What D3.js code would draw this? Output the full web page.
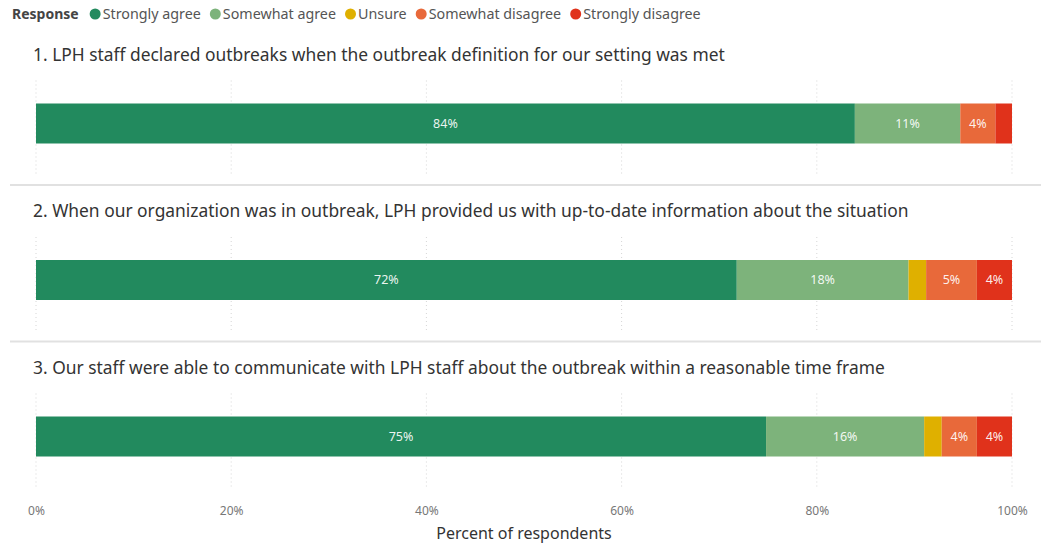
<!DOCTYPE html>
<html>
<head>
<meta charset="utf-8">
<script src="https://cdn.jsdelivr.net/npm/d3@7"></script>
<style>
  html, body { margin: 0; padding: 0; background: #ffffff; }
  svg { display: block; font-family: "Segoe UI", "Noto Sans", "Open Sans", sans-serif; }
</style>
</head>
<body>
<svg id="chart" width="1041" height="544"></svg>
<script>
// Survey questions (one panel each)
const questions = [
  "1. LPH staff declared outbreaks when the outbreak definition for our setting was met",
  "2. When our organization was in outbreak, LPH provided us with up-to-date information about the situation",
  "3. Our staff were able to communicate with LPH staff about the outbreak within a reasonable time frame"
];

// Response categories and their colours
const responses = ["Strongly agree", "Somewhat agree", "Unsure", "Somewhat disagree", "Strongly disagree"];
const responseColors = ["#228a5e", "#7db37b", "#dfb000", "#e8693a", "#e0321b"];

// Share of respondents per response, one array per question (fractions)
const q1Shares = [0.839, 0.108, 0.000, 0.036, 0.017];
const q2Shares = [0.718, 0.176, 0.018, 0.052, 0.036];
const q3Shares = [0.748, 0.162, 0.018, 0.036, 0.036];
const shares = [q1Shares, q2Shares, q3Shares];

// Axis ticks
const tickValues = [0, 0.2, 0.4, 0.6, 0.8, 1.0];
const axisTitle = "Percent of respondents";
const legendTitle = "Response";

const svg = d3.select("#chart");
const W = 1041;

const x = d3.scaleLinear().domain([0, 1]).range([36, 1012]);
const panel = d3.scaleBand().domain(d3.range(questions.length)).range([28.5, 498]).padding(0);
const color = d3.scaleOrdinal().domain(responses).range(responseColors);
const pct = d3.format(".0%");

// Legend
const legend = svg.append("g").attr("transform", "translate(12,14)");
const lt = legend.append("text")
  .attr("x", 0).attr("y", 0).attr("dy", "0.35em")
  .attr("font-size", 14).attr("font-weight", 700).attr("fill", "#444")
  .text(legendTitle);
let lx = lt.node().getComputedTextLength() + 11;
responses.forEach(r => {
  const g = legend.append("g").attr("transform", `translate(${lx},0)`);
  g.append("circle").attr("cx", 5.5).attr("cy", 0).attr("r", 5.5).attr("fill", color(r));
  const t = g.append("text")
    .attr("x", 13).attr("y", 0).attr("dy", "0.35em")
    .attr("font-size", 14.3).attr("fill", "#555")
    .text(r);
  lx += 13 + t.node().getComputedTextLength() + 9;
});

// Panels
questions.forEach((q, i) => {
  const top = panel(i);
  const g = svg.append("g").attr("transform", `translate(0,${top})`);

  // dotted vertical gridlines
  g.selectAll("line.grid").data(tickValues).join("line")
    .attr("class", "grid")
    .attr("x1", d => x(d)).attr("x2", d => x(d))
    .attr("y1", 52).attr("y2", 146)
    .attr("stroke", "#d6d6d6").attr("stroke-width", 1)
    .attr("stroke-dasharray", "1,3");

  // question title
  g.append("text")
    .attr("x", 33).attr("y", 32)
    .attr("font-size", 17.4).attr("fill", "#333")
    .text(q);

  // stacked segments
  const vals = shares[i];
  const starts = d3.cumsum([0, ...vals]).slice(0, vals.length);
  const segs = responses.map((r, k) => ({ r, v: vals[k], s: starts[k] })).filter(d => d.v > 0);

  g.selectAll("rect.seg").data(segs).join("rect")
    .attr("class", "seg")
    .attr("x", d => x(d.s))
    .attr("y", 75)
    .attr("width", d => x(d.s + d.v) - x(d.s))
    .attr("height", 40)
    .attr("fill", d => color(d.r));

  g.selectAll("text.lbl").data(segs.filter(d => x(d.s + d.v) - x(d.s) >= 26)).join("text")
    .attr("class", "lbl")
    .attr("x", d => (x(d.s) + x(d.s + d.v)) / 2)
    .attr("y", 95).attr("dy", "0.35em")
    .attr("text-anchor", "middle")
    .attr("font-size", 12.5).attr("fill", "#ffffff").attr("fill-opacity", 0.92)
    .text(d => pct(d.v));

  // separator between panels
  if (i < questions.length - 1) {
    g.append("line")
      .attr("x1", 10).attr("x2", W)
      .attr("y1", panel.bandwidth()).attr("y2", panel.bandwidth())
      .attr("stroke", "#e1e1e1").attr("stroke-width", 2);
  }
});

// Bottom axis
const axis = svg.append("g")
  .attr("transform", "translate(0,498)")
  .call(d3.axisBottom(x).tickValues(tickValues).tickFormat(d3.format(".0%")).tickSize(0).tickPadding(8));
axis.select(".domain").remove();
axis.selectAll("text")
  .attr("font-size", 12).attr("fill", "#777")
  .attr("font-family", "\"Segoe UI\", \"Noto Sans\", sans-serif");

svg.append("text")
  .attr("x", x(0.5)).attr("y", 538.5)
  .attr("text-anchor", "middle")
  .attr("font-size", 16).attr("fill", "#333")
  .text(axisTitle);
</script>
</body>
</html>
